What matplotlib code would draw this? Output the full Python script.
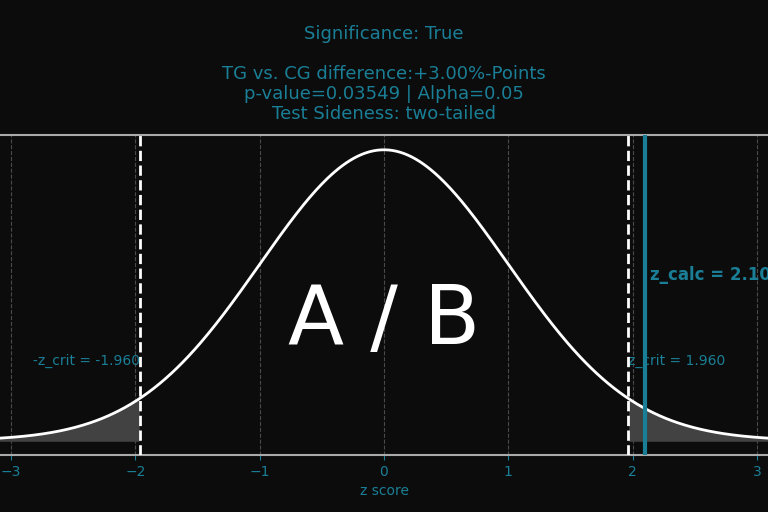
import numpy as np
import matplotlib.pyplot as plt

plt.rcParams['font.family'] = ['DejaVu Sans']

# Test results
z_crit = 1.960
z_calc = 2.103
p_value = 0.03549
alpha = 0.05
diff_pts = 3.00
sideness = 'two-tailed'

teal = '#1a7f96'
bg = '#0c0c0c'

x = np.linspace(-3.09, 3.09, 400)
pdf = np.exp(-x**2 / 2) / np.sqrt(2 * np.pi)

fig = plt.figure(figsize=(7.68, 5.12), dpi=100, facecolor=bg)
ax = fig.add_axes([0.0, 0.111, 1.0, 0.625], facecolor=bg)

ax.plot(x, pdf, color='white', lw=2, zorder=3)
ax.fill_between(x, 0, pdf, where=(x <= -z_crit), color='#424242', zorder=2)
ax.fill_between(x, 0, pdf, where=(x >= z_crit), color='#424242', zorder=2)

ax.axvline(-z_crit, color='white', ls='--', lw=2, zorder=4)
ax.axvline(z_crit, color='white', ls='--', lw=2, zorder=4)
ax.axvline(z_calc, color=teal, lw=3, zorder=4)

ax.text(-z_crit, 0.1, f'-z_crit = {-z_crit:.3f}', color=teal, ha='right', va='bottom', fontsize=10)
ax.text(z_crit, 0.1, f'z_crit = {z_crit:.3f}', color=teal, ha='left', va='bottom', fontsize=10)
ax.text(z_calc + 0.04, 0.215, f'z_calc = {z_calc:.3f}', color=teal, ha='left', va='bottom',
        fontsize=12, fontweight='bold', clip_on=False)
ax.text(0, 0.163, 'A / B', color='white', ha='center', va='center', fontsize=59)

ax.set_xlim(-3.09, 3.09)
ax.set_ylim(-0.02, 0.419)
ax.set_xticks([-3, -2, -1, 0, 1, 2, 3])
ax.set_yticks([])
ax.grid(axis='x', color='#4a4a4a', ls='--', lw=0.8)
ax.tick_params(axis='x', colors=teal, labelsize=10)
ax.set_xlabel('z score', color=teal, fontsize=10)
for s in ['left', 'right']:
    ax.spines[s].set_visible(False)
ax.spines['top'].set_color('#aaaaaa')
ax.spines['bottom'].set_color('#aaaaaa')
ax.spines['top'].set_linewidth(1.5)
ax.spines['bottom'].set_linewidth(1.5)

title = (f'Significance: {p_value < alpha}\n\n'
         f'TG vs. CG difference:+{diff_pts:.2f}%-Points\n'
         f'p-value={p_value} | Alpha={alpha}\n'
         f'Test Sideness: {sideness}')
ax.set_title(title, color=teal, fontsize=13, pad=12, linespacing=1.13)

fig.savefig('out.png', dpi=100, facecolor=bg)
